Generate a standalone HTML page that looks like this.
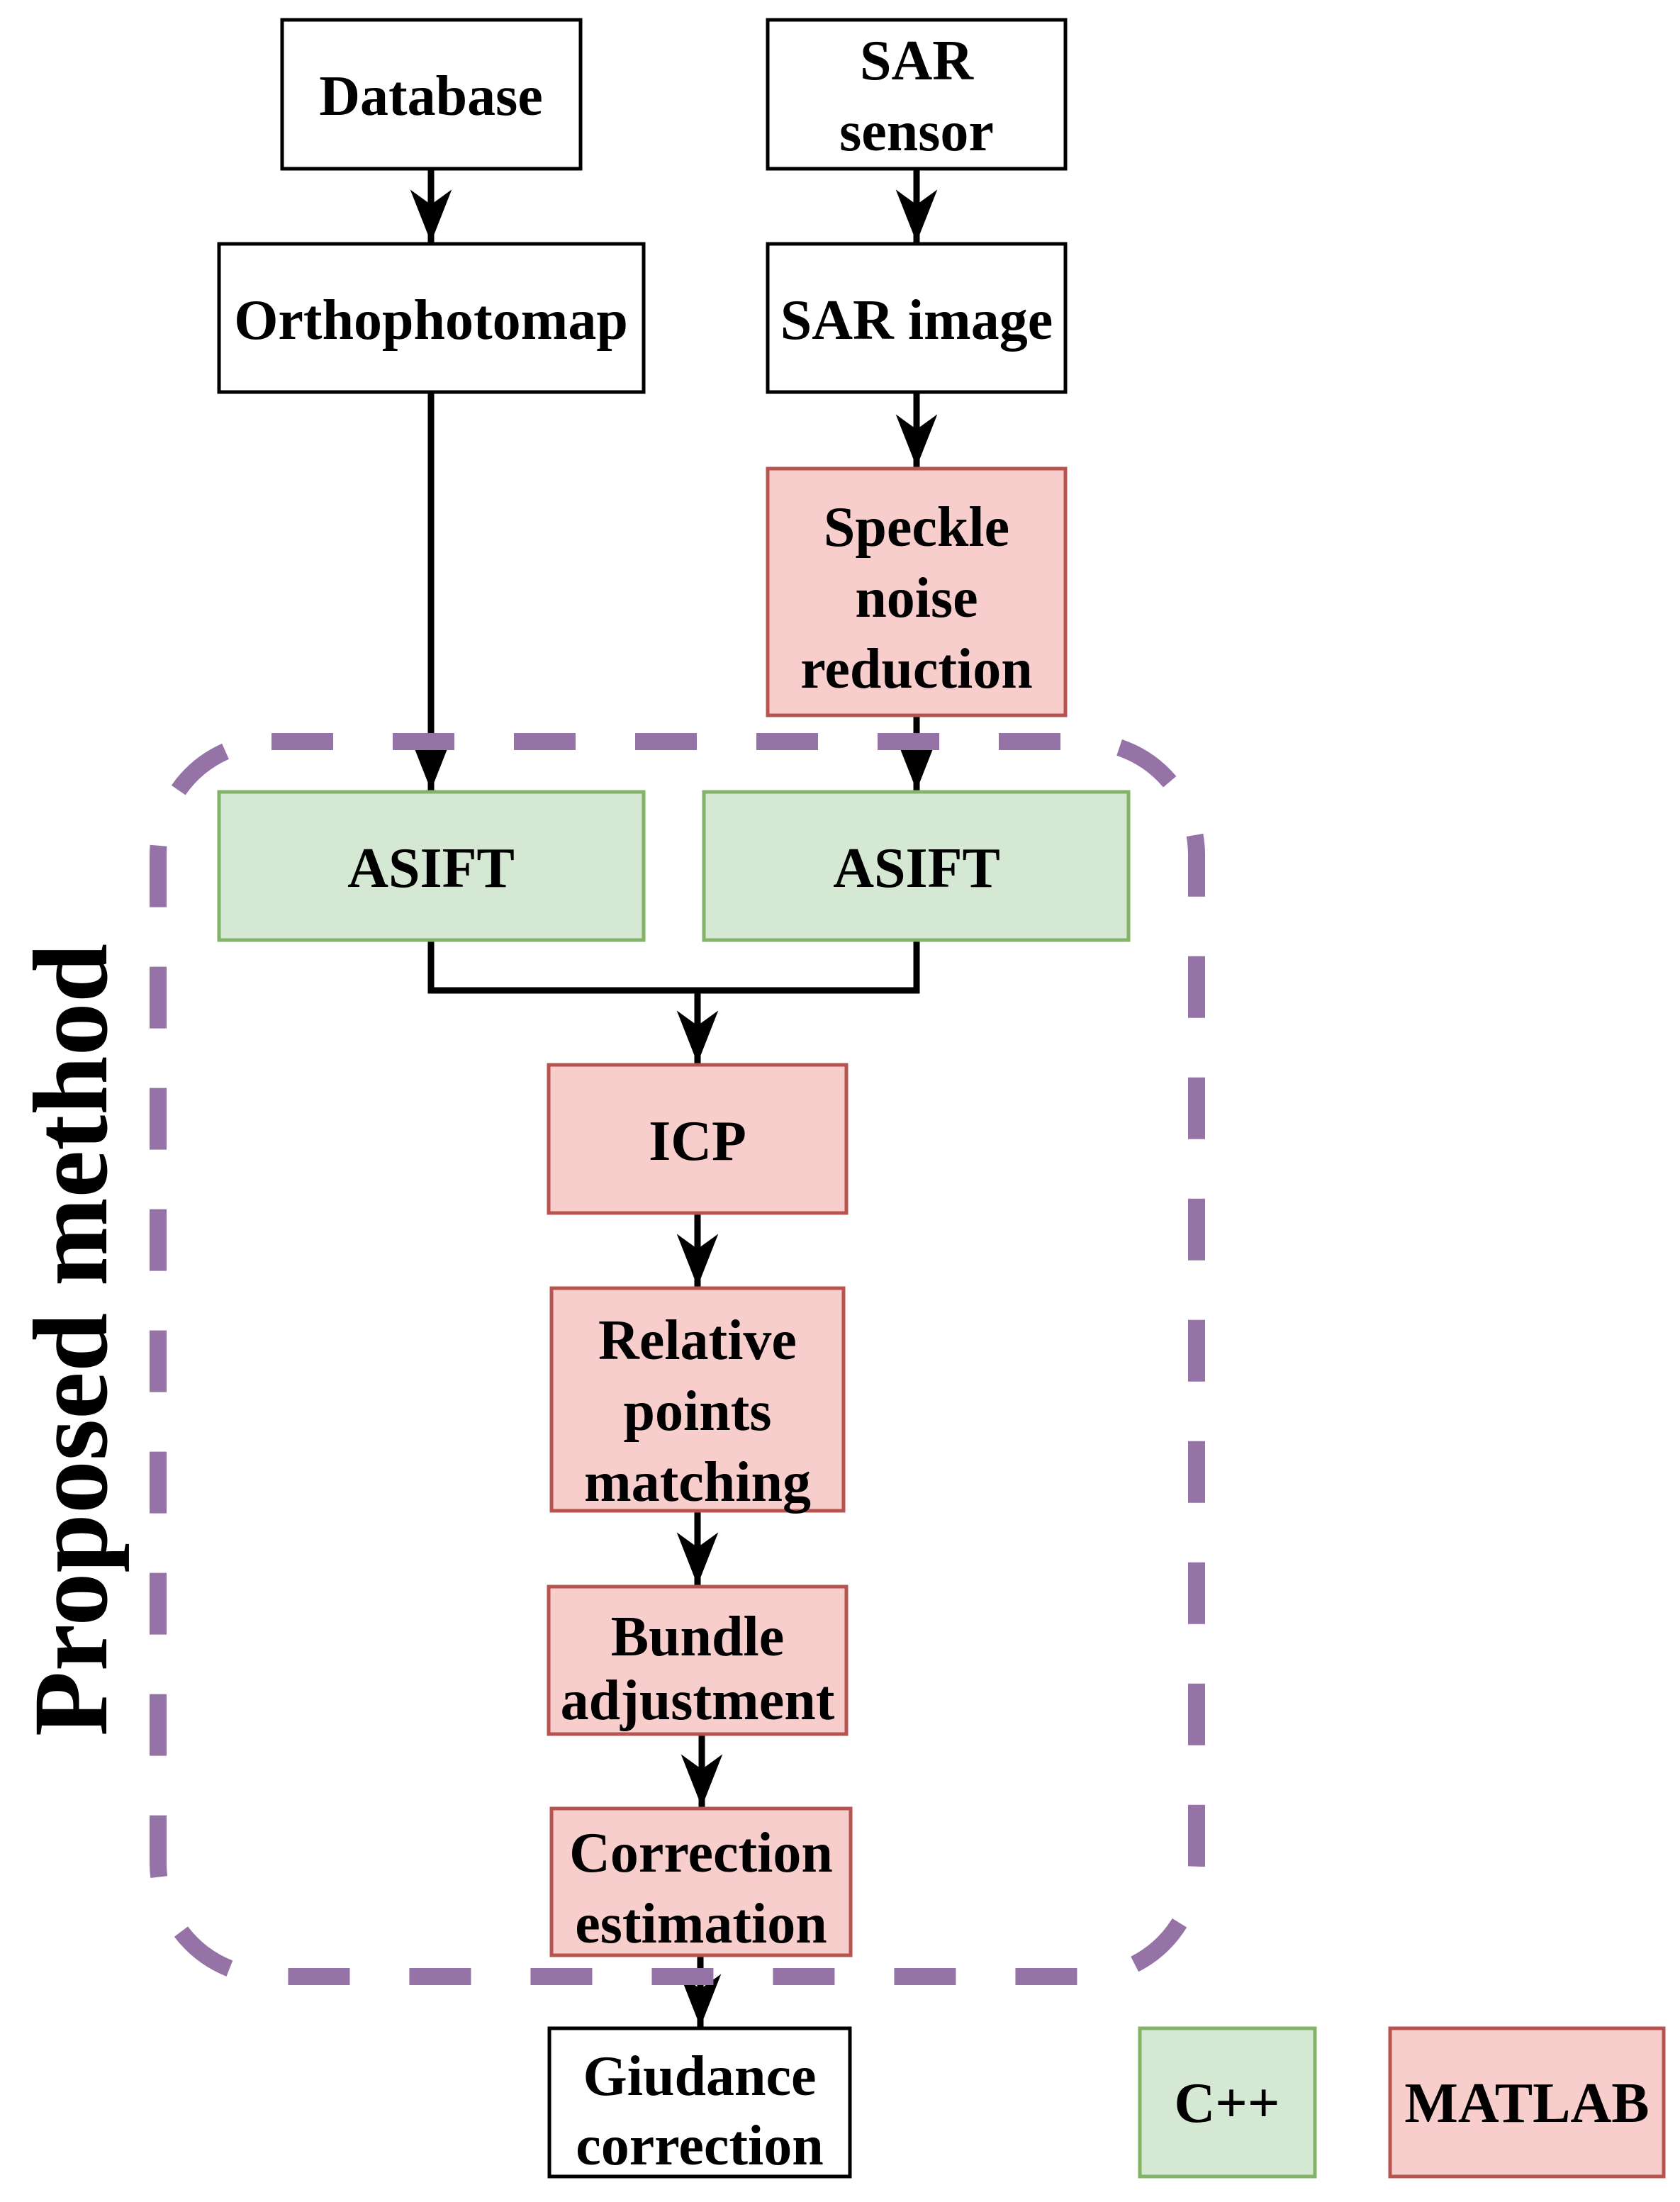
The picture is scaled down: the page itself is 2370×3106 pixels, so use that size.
<!DOCTYPE html>
<html><head><meta charset="utf-8"><style>
html,body{margin:0;padding:0;background:#fff;}
svg{display:block;}
text{font-family:"Liberation Serif",serif;font-weight:bold;font-size:80px;fill:#000;text-anchor:middle;}
</style></head><body>
<svg width="2370" height="3106" viewBox="0 0 2370 3106" xmlns="http://www.w3.org/2000/svg">
<defs>
<marker id="a" markerUnits="userSpaceOnUse" markerWidth="80" markerHeight="80" refX="58" refY="30" orient="auto" viewBox="0 0 60 60">
<path d="M58 30 L2 8 L18 30 L2 52 Z" fill="#000"/>
</marker>
</defs>
<g fill="none" stroke="#000" stroke-width="9">
<line x1="608" y1="238" x2="608" y2="342" marker-end="url(#a)"/>
<line x1="1293" y1="238" x2="1293" y2="342" marker-end="url(#a)"/>
<line x1="1293" y1="553" x2="1293" y2="659" marker-end="url(#a)"/>
<line x1="608" y1="553" x2="608" y2="1115" marker-end="url(#a)"/>
<line x1="1293" y1="1008" x2="1293" y2="1115" marker-end="url(#a)"/>
<polyline points="608,1326 608,1397 1293,1397 1293,1326"/>
<line x1="984" y1="1397" x2="984" y2="1500" marker-end="url(#a)"/>
<line x1="984" y1="1710" x2="984" y2="1815" marker-end="url(#a)"/>
<line x1="984" y1="2130" x2="984" y2="2236" marker-end="url(#a)"/>
<line x1="990" y1="2444" x2="990" y2="2549" marker-end="url(#a)"/>
<line x1="988" y1="2757" x2="988" y2="2859" marker-end="url(#a)"/>
</g>
<rect x="223" y="1046" width="1465" height="1742" rx="160" ry="160" fill="none" stroke="#9673a6" stroke-width="24" stroke-dasharray="87 84"/>
<g stroke-width="5">
<rect x="398" y="28" width="421" height="210" fill="#fff" stroke="#000"/>
<rect x="1083" y="28" width="420" height="210" fill="#fff" stroke="#000"/>
<rect x="309" y="344" width="599" height="209" fill="#fff" stroke="#000"/>
<rect x="1083" y="344" width="420" height="209" fill="#fff" stroke="#000"/>
<rect x="1083" y="661" width="420" height="348" fill="#f8cecc" stroke="#b85450"/>
<rect x="309" y="1117" width="599" height="209" fill="#d5e8d4" stroke="#82b366"/>
<rect x="993" y="1117" width="599" height="209" fill="#d5e8d4" stroke="#82b366"/>
<rect x="774" y="1502" width="420" height="209" fill="#f8cecc" stroke="#b85450"/>
<rect x="778" y="1817" width="412" height="314" fill="#f8cecc" stroke="#b85450"/>
<rect x="774" y="2238" width="420" height="208" fill="#f8cecc" stroke="#b85450"/>
<rect x="778" y="2551" width="422" height="207" fill="#f8cecc" stroke="#b85450"/>
<rect x="775" y="2861" width="424" height="209" fill="#fff" stroke="#000"/>
<rect x="1608" y="2861" width="247" height="209" fill="#d5e8d4" stroke="#82b366"/>
<rect x="1961" y="2861" width="386" height="209" fill="#f8cecc" stroke="#b85450"/>
</g>
<text x="608" y="162">Database</text>
<text x="1293" y="112">SAR</text>
<text x="1293" y="212">sensor</text>
<text x="608" y="478">Orthophotomap</text>
<text x="1293" y="478">SAR image</text>
<text x="1293" y="770">Speckle</text>
<text x="1293" y="870">noise</text>
<text x="1293" y="970">reduction</text>
<text x="608" y="1251">ASIFT</text>
<text x="1293" y="1251">ASIFT</text>
<text x="984" y="1636">ICP</text>
<text x="984" y="1917">Relative</text>
<text x="984" y="2017">points</text>
<text x="984" y="2117">matching</text>
<text x="984" y="2335">Bundle</text>
<text x="984" y="2425">adjustment</text>
<text x="989" y="2640">Correction</text>
<text x="989" y="2740">estimation</text>
<text x="987" y="2955">Giudance</text>
<text x="987" y="3053">correction</text>
<text x="1731" y="2993">C++</text>
<text x="2154" y="2993">MATLAB</text>
<text transform="translate(150,1890) rotate(-90)" style="font-size:150px">Proposed method</text>
</svg>
</body></html>
